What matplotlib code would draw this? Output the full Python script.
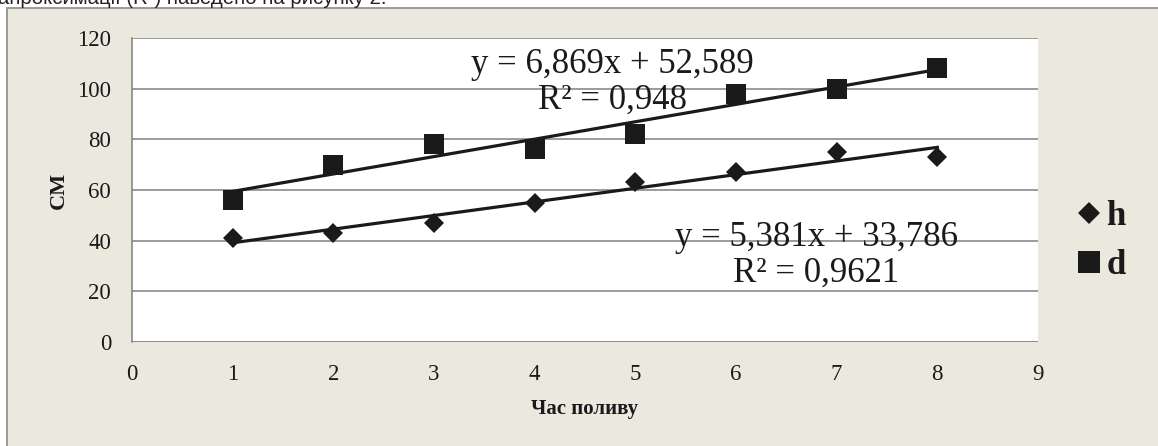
import matplotlib as mpl
import matplotlib.pyplot as plt
from matplotlib.patches import Rectangle
import numpy as np

# дані з рисунку
hours = [1, 2, 3, 4, 5, 6, 7, 8]
h_vals = [41, 43, 47, 55, 63, 67, 75, 73]
d_vals = [56, 70, 78, 76, 82, 98, 100, 108]

# коефіцієнти лінійних трендів (як підписано на графіку)
h_fit = (5.381, 33.786, "0,9621")
d_fit = (6.869, 52.589, "0,948")

xticks = list(range(0, 10))
yticks = list(range(0, 121, 20))

W, H = 1158, 446
serif = "Liberation Serif"
grid_col = "#8a8a8a"
ink = "#1a1a1a"

fig = plt.figure(figsize=(W / 100, H / 100), dpi=100)
fig.patch.set_facecolor("white")

# бежева рамка діаграми
fig.patches.append(Rectangle((7 / W, -0.1), 1.2, 1 - 8 / H + 0.1,
                             transform=fig.transFigure, facecolor="#ebe8de",
                             edgecolor=grid_col, linewidth=1.2, zorder=-5))

# обрізаний рядок тексту над рисунком
fig.text(-2 / W, 1 - 4 / H, "апроксимації (R²) наведено на рисунку 2.",
         family="Liberation Sans", fontsize=14.7, color="#222222",
         ha="left", va="baseline")

ax = fig.add_axes([132 / W, (H - 342) / H, 906 / W, 304 / H])
ax.set_zorder(2)
ax.set_facecolor("white")
ax.set_xlim(0, 9)
ax.set_ylim(0, 120)
ax.set_xticks(xticks)
ax.set_yticks(yticks)
ax.tick_params(length=0, labelsize=16.5, colors=ink)
ax.tick_params(axis="x", pad=16)
ax.tick_params(axis="y", pad=15)
for lab in ax.get_xticklabels() + ax.get_yticklabels():
    lab.set_family(serif)
ax.grid(axis="y", color=grid_col, linewidth=1.2)
ax.set_axisbelow(True)
for s in ["top", "right", "bottom"]:
    ax.spines[s].set_visible(False)
ax.spines["left"].set_color(grid_col)
ax.spines["left"].set_linewidth(1.2)
ax.axhline(0, color=grid_col, linewidth=1.2, zorder=1)

x = np.array(hours)
for vals, fit, mk, ms, lab in [(h_vals, h_fit, "D", 10.5, "h"),
                               (d_vals, d_fit, "s", 14, "d")]:
    k, b, r2 = fit
    xx = np.array([x.min(), x.max()])
    ax.plot(xx, k * xx + b, color=ink, linewidth=2.3, zorder=3)
    ax.plot(x, vals, linestyle="none", marker=mk, markersize=ms,
            color=ink, markeredgewidth=0, label=lab, zorder=4)

def eq_text(k, b, r2):
    fmt = lambda v: f"{v:.3f}".replace(".", ",")
    return f"y = {fmt(k)}x + {fmt(b)}\nR² = {r2}"

ax.text(4.77, 102.5, eq_text(*d_fit), family=serif, fontsize=25, color=ink,
        ha="center", va="center", multialignment="center", linespacing=1.12,
        zorder=5)
ax.text(6.80, 34.3, eq_text(*h_fit), family=serif, fontsize=25, color=ink,
        ha="center", va="center", multialignment="center", linespacing=1.12,
        zorder=5)

ax.set_ylabel("СМ", family=serif, fontsize=16, fontweight="bold", color=ink,
              labelpad=6)
ax.set_xlabel("Час поливу", family=serif, fontsize=15, fontweight="bold",
              color=ink, labelpad=10)

leg = fig.legend(loc="center left", bbox_to_anchor=(1063 / W, 1 - 241 / H),
                 frameon=False, handlelength=0.7, handletextpad=0.15,
                 labelspacing=0.45, borderaxespad=0, markerscale=1.1,
                 prop={"family": serif, "weight": "bold", "size": 25})
for t in leg.get_texts():
    t.set_color(ink)

fig.savefig("out.png", dpi=100, facecolor=fig.get_facecolor())
